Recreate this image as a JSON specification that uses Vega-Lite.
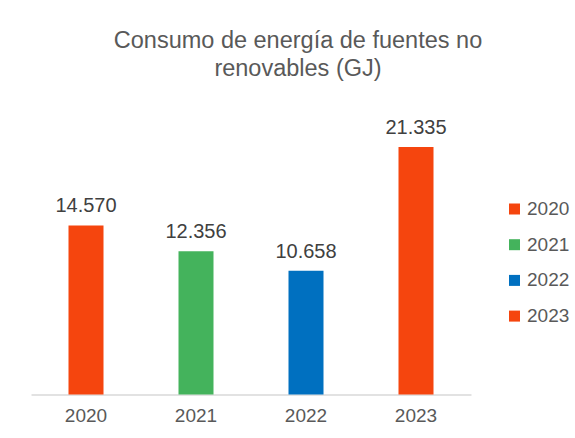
{
  "$schema": "https://vega.github.io/schema/vega-lite/v6.json",
  "width": 440,
  "height": 290,
  "autosize": {"type": "none"},
  "padding": {"left": 31, "top": 104.5, "right": 104, "bottom": 43.5},
  "background": "white",
  "title": {
    "text": ["Consumo de energía de fuentes no", "renovables (GJ)"],
    "font": "Liberation Sans",
    "fontSize": 23.5,
    "fontWeight": "normal",
    "color": "#595959",
    "anchor": "middle",
    "frame": "group",
    "dx": 47,
    "offset": 24,
    "lineHeight": 28.5
  },
  "data": {
    "values": [
      {"year": "2020", "value": 14570},
      {"year": "2021", "value": 12356},
      {"year": "2022", "value": 10658},
      {"year": "2023", "value": 21335}
    ]
  },
  "encoding": {
    "x": {
      "field": "year",
      "type": "nominal",
      "sort": null,
      "scale": {"paddingInner": 0, "paddingOuter": 0},
      "axis": {
        "title": null,
        "domainColor": "#D9D9D9",
        "domainWidth": 1.5,
        "ticks": false,
        "grid": false,
        "labelFont": "Liberation Sans",
        "labelFontSize": 19,
        "labelColor": "#595959",
        "labelAngle": 0,
        "labelBaseline": "alphabetic",
        "labelPadding": 27
      }
    },
    "y": {
      "field": "value",
      "type": "quantitative",
      "scale": {"domain": [0, 25000]},
      "axis": null
    }
  },
  "layer": [
    {
      "mark": {"type": "bar", "size": 35},
      "encoding": {
        "color": {
          "field": "year",
          "type": "nominal",
          "scale": {"domain": ["2020", "2021", "2022", "2023"], "range": ["#F5450E", "#44B35C", "#0070C0", "#F5450E"]},
          "legend": {
            "title": null,
            "orient": "none",
            "legendX": 474,
            "legendY": 95,
            "symbolType": "square",
            "symbolSize": 121,
            "symbolStrokeWidth": 0,
            "labelFont": "Liberation Sans",
            "labelFontSize": 19,
            "labelColor": "#595959",
            "rowPadding": 15.7,
            "labelOffset": 3
          }
        }
      }
    },
    {
      "mark": {"type": "text", "baseline": "alphabetic", "dy": -13, "fontSize": 20, "font": "Liberation Sans", "color": "#404040"},
      "encoding": {
        "text": {"field": "value", "type": "quantitative", "format": ",d"}
      }
    }
  ],
  "config": {
    "view": {"stroke": null},
    "locale": {"number": {"decimal": ",", "thousands": ".", "grouping": [3], "currency": ["", "€"]}}
  }
}
